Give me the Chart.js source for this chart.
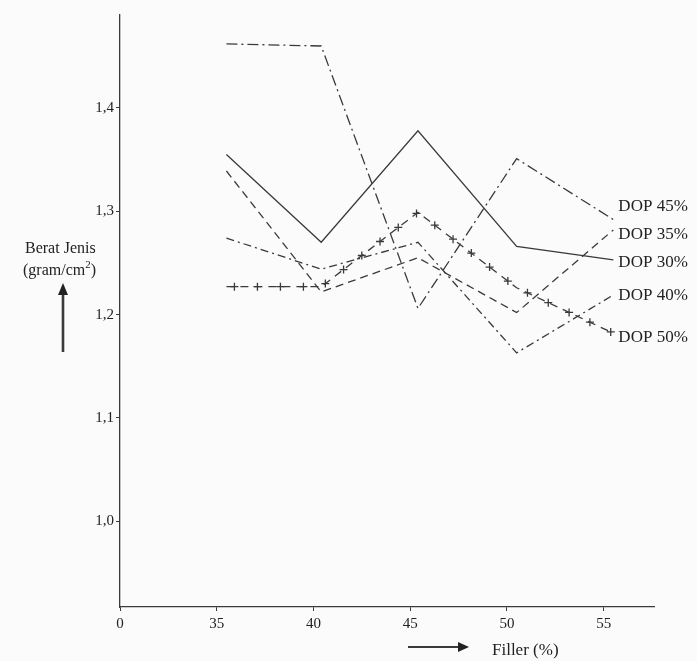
<!DOCTYPE html>
<html>
<head>
<meta charset="utf-8">
<script src="https://cdn.jsdelivr.net/npm/chart.js@4.4.1/dist/chart.umd.min.js"></script>
<style>
  html, body { margin: 0; padding: 0; background: #fcfbfb; }
  #wrap { width: 697px; height: 661px; position: relative; }
</style>
</head>
<body>
<div id="wrap"><canvas id="chart" width="697" height="661"></canvas></div>
<script>
// filler content (%) where each curve was measured
const filler = [35.5, 40.4, 45.4, 50.5, 55.5]
// berat jenis (gram/cm2) per DOP content
const dop45 = [1.462, 1.460, 1.206, 1.351, 1.292]
const dop35 = [1.339, 1.222, 1.255, 1.202, 1.282]
const dop30 = [1.355, 1.270, 1.378, 1.266, 1.253]
const dop40 = [1.274, 1.244, 1.270, 1.163, 1.219]
const dop50 = [1.227, 1.227, 1.299, 1.226, 1.182]
const seriesNames = ['DOP 45%', 'DOP 35%', 'DOP 30%', 'DOP 40%', 'DOP 50%']
const xTicks = [30, 35, 40, 45, 50, 55]
const yTicks = [1.0, 1.1, 1.2, 1.3, 1.4]

const ink = '#3a3a3a'
const serif = '"Liberation Serif", "DejaVu Serif", serif'

const pts = arr => arr.map((v, i) => ({ x: filler[i], y: v }))

const ds = (label, data, dash) => ({
  label: label,
  data: pts(data),
  borderColor: ink,
  borderWidth: 1.3,
  borderDash: dash,
  pointRadius: 0,
  tension: 0,
  fill: false
})

// right-hand labels, offset from the end of each line
const labelShift = { 'DOP 45%': -13, 'DOP 35%': 5, 'DOP 30%': 3, 'DOP 40%': 1, 'DOP 50%': 4 }

const decor = {
  id: 'decor',
  afterDatasetsDraw(chart) {
    const ctx = chart.ctx
    ctx.save()
    // crosses along the DOP 50% line
    const meta = chart.getDatasetMeta(4)
    ctx.strokeStyle = ink
    ctx.lineWidth = 1.3
    ctx.setLineDash([])
    let carry = 8
    for (let i = 0; i < meta.data.length - 1; i++) {
      const a = meta.data[i], b = meta.data[i + 1]
      const len = Math.hypot(b.x - a.x, b.y - a.y)
      let d = carry
      while (d < len) {
        const t = d / len
        const cx = a.x + (b.x - a.x) * t, cy = a.y + (b.y - a.y) * t
        ctx.beginPath()
        ctx.moveTo(cx - 4, cy); ctx.lineTo(cx + 4, cy)
        ctx.moveTo(cx, cy - 4); ctx.lineTo(cx, cy + 4)
        ctx.stroke()
        d += 23
      }
      carry = d - len
    }

    // DOP labels
    ctx.fillStyle = '#222'
    ctx.font = '17px ' + serif
    ctx.textBaseline = 'middle'
    ctx.textAlign = 'left'
    chart.data.datasets.forEach((d, i) => {
      const m = chart.getDatasetMeta(i)
      const last = m.data[m.data.length - 1]
      ctx.fillText(d.label, last.x + 5, last.y + labelShift[d.label])
    })

    // y title and arrow
    ctx.font = '16px ' + serif
    ctx.textBaseline = 'alphabetic'
    ctx.fillText('Berat Jenis', 25, 253)
    ctx.fillText('(gram/cm', 23, 275)
    const w = ctx.measureText('(gram/cm').width
    ctx.font = '11px ' + serif
    ctx.fillText('2', 23 + w, 268)
    const w2 = ctx.measureText('2').width
    ctx.font = '16px ' + serif
    ctx.fillText(')', 23 + w + w2, 275)

    ctx.lineWidth = 2.6
    ctx.beginPath(); ctx.moveTo(63, 352); ctx.lineTo(63, 292); ctx.stroke()
    ctx.beginPath()
    ctx.moveTo(63, 283); ctx.lineTo(58, 295); ctx.lineTo(68, 295); ctx.closePath(); ctx.fill()

    // x title and arrow
    ctx.lineWidth = 2.2
    ctx.beginPath(); ctx.moveTo(408, 647); ctx.lineTo(461, 647); ctx.stroke()
    ctx.beginPath()
    ctx.moveTo(469, 647); ctx.lineTo(458, 642); ctx.lineTo(458, 652); ctx.closePath(); ctx.fill()
    ctx.font = '17px ' + serif
    ctx.textBaseline = 'middle'
    ctx.fillText('Filler (%)', 492, 651)
    ctx.restore()
  }
}

new Chart(document.getElementById('chart'), {
  type: 'line',
  data: {
    datasets: [
      ds(seriesNames[0], dop45, [11, 4, 2, 4]),
      ds(seriesNames[1], dop35, [8, 5]),
      ds(seriesNames[2], dop30, []),
      ds(seriesNames[3], dop40, [8, 4, 2, 4]),
      ds(seriesNames[4], dop50, [8, 6])
    ]
  },
  options: {
    responsive: false,
    animation: false,
    layout: { padding: { top: 15, right: 43, left: 0, bottom: 0 } },
    plugins: { legend: { display: false }, tooltip: { enabled: false } },
    scales: {
      x: {
        type: 'linear',
        min: 30,
        max: 57.6,
        afterBuildTicks: s => { s.ticks = xTicks.map(v => ({ value: v })) },
        afterFit: s => { s.height = 54 },
        grid: { drawOnChartArea: false, tickLength: 4, color: ink },
        border: { color: ink, width: 1.3 },
        ticks: {
          color: '#222',
          padding: 4,
          maxRotation: 0,
          font: { family: serif, size: 15 },
          callback: v => v === 30 ? '0' : String(v)
        }
      },
      y: {
        type: 'linear',
        min: 0.917,
        max: 1.49,
        afterBuildTicks: s => { s.ticks = yTicks.map(v => ({ value: v })) },
        afterFit: s => { s.width = 120 },
        grid: { drawOnChartArea: false, tickLength: 4, color: ink },
        border: { color: ink, width: 1.3 },
        ticks: {
          color: '#222',
          padding: 2,
          font: { family: serif, size: 15 },
          callback: v => v.toFixed(1).replace('.', ',')
        }
      }
    }
  },
  plugins: [decor]
})
</script>
</body>
</html>
